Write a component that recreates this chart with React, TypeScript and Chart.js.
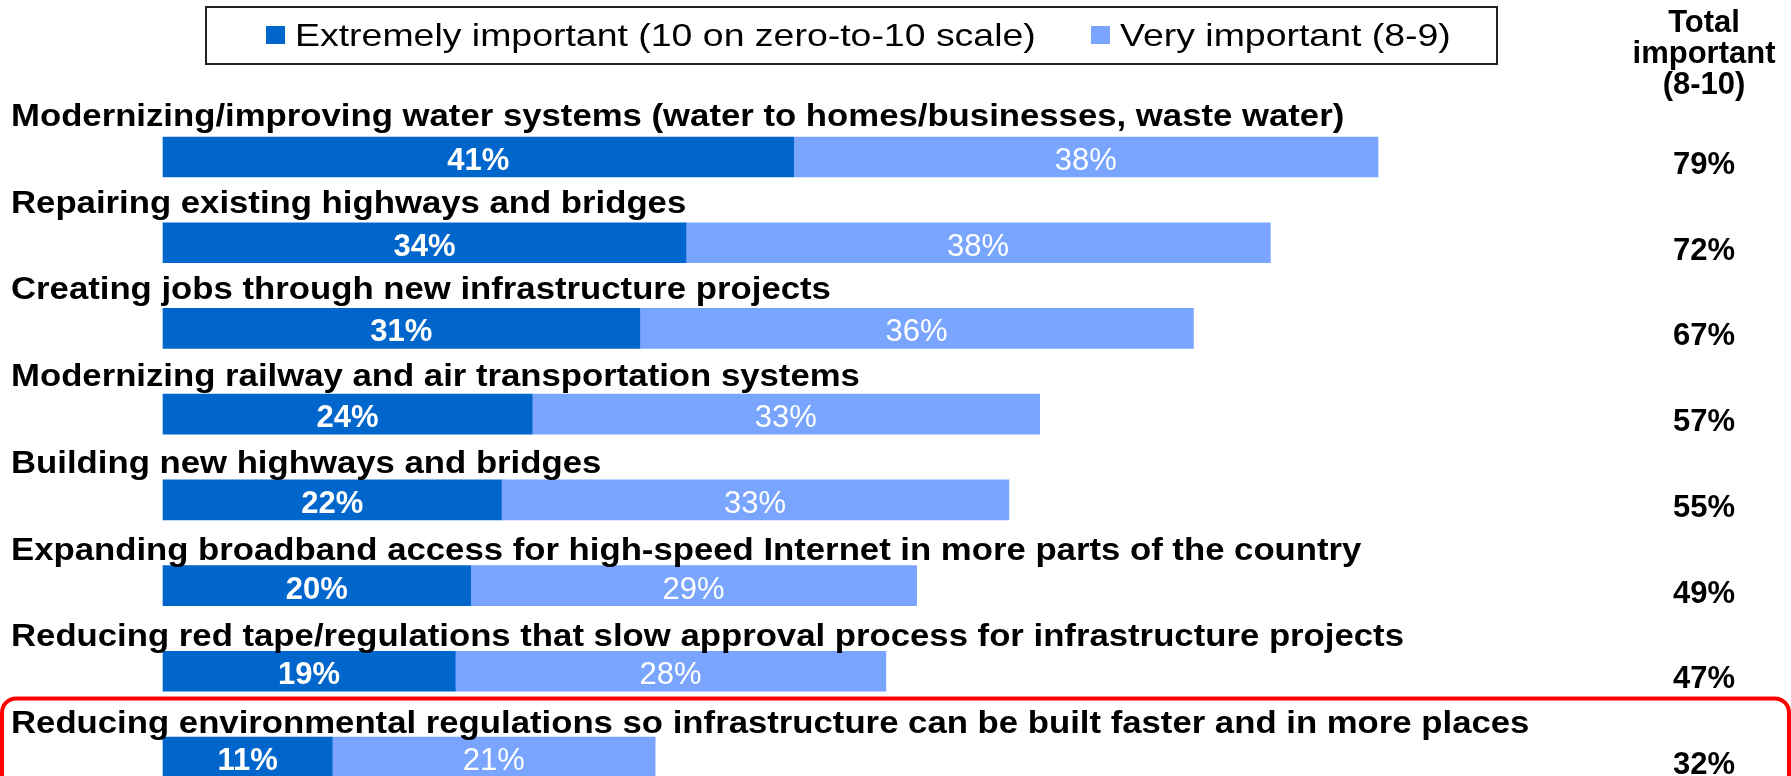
import React, { useEffect, useRef } from "react";
import { Chart, registerables } from "chart.js";

Chart.register(...registerables);

const categories: string[] = [
  "Modernizing/improving water systems (water to homes/businesses, waste water)",
  "Repairing existing highways and bridges",
  "Creating jobs through new infrastructure projects",
  "Modernizing railway and air transportation systems",
  "Building new highways and bridges",
  "Expanding broadband access for high-speed Internet in more parts of the country",
  "Reducing red tape/regulations that slow approval process for infrastructure projects",
  "Reducing environmental regulations so infrastructure can be built faster and in more places",
];
const extremelyImportant: number[] = [41, 34, 31, 24, 22, 20, 19, 11];
const veryImportant: number[] = [38, 38, 36, 33, 33, 29, 28, 21];
const totalImportant: number[] = [79, 72, 67, 57, 55, 49, 47, 32];
const seriesLabels: string[] = ["Extremely important (10 on zero-to-10 scale)", "Very important (8-9)"];
const totalHeader: string[] = ["Total", "important", "(8-10)"];

const DARK = "#0066CC";
const LIGHT = "#79A5FF";
const FONT = '"Liberation Sans", Arial, sans-serif';

function drawText(
  ctx: CanvasRenderingContext2D,
  text: string,
  x: number,
  y: number,
  font: string,
  color: string,
  align: CanvasTextAlign,
  sx: number
) {
  ctx.save();
  ctx.font = font;
  ctx.fillStyle = color;
  ctx.textAlign = align;
  ctx.textBaseline = "alphabetic";
  ctx.translate(x, y);
  ctx.scale(sx, 1);
  ctx.fillText(text, 0, 0);
  ctx.restore();
}

const overlayPlugin = {
  id: "overlay",
  afterDatasetsDraw(chart: any) {
    const ctx: CanvasRenderingContext2D = chart.ctx;
    const yScale = chart.scales.y;

    // value labels inside bars
    chart.data.datasets.forEach((ds: any, di: number) => {
      const meta = chart.getDatasetMeta(di);
      meta.data.forEach((bar: any, i: number) => {
        const v = ds.data[i];
        const cx = (bar.base + bar.x) / 2;
        drawText(
          ctx,
          v + "%",
          cx,
          bar.y + 13,
          (di === 0 ? "bold " : "") + "31px " + FONT,
          "#FFFFFF",
          "center",
          1.0
        );
      });
    });

    // category labels above bars
    categories.forEach((c, i) => {
      const yc = yScale.getPixelForValue(i);
      drawText(ctx, c, 11, yc - 31 + i, "bold 31px " + FONT, "#000000", "left", 1.12);
    });

    // totals column
    const totX = 1704;
    totalImportant.forEach((t, i) => {
      const yc = yScale.getPixelForValue(i);
      drawText(ctx, t + "%", totX, yc + 17, "bold 31px " + FONT, "#000000", "center", 1.0);
    });
    const headerBaselines = [32, 63, 94];
    totalHeader.forEach((h, i) => {
      drawText(ctx, h, totX, headerBaselines[i], "bold 31px " + FONT, "#000000", "center", 1.0);
    });

    // legend box
    ctx.save();
    ctx.strokeStyle = "#222222";
    ctx.lineWidth = 2;
    ctx.strokeRect(206, 7, 1291, 57);
    ctx.restore();
    const legendItems = [
      { sq: 266, tx: 295, color: DARK, label: seriesLabels[0] },
      { sq: 1091, tx: 1120, color: LIGHT, label: seriesLabels[1] },
    ];
    legendItems.forEach((it) => {
      ctx.save();
      ctx.fillStyle = it.color;
      ctx.fillRect(it.sq, 26, 19, 18);
      ctx.restore();
      drawText(ctx, it.label, it.tx, 46, "32px " + FONT, "#000000", "left", 1.17);
    });

    // red highlight box around last item
    ctx.save();
    ctx.strokeStyle = "#FF0000";
    ctx.lineWidth = 4;
    ctx.beginPath();
    (ctx as any).roundRect(2, 698.5, 1787, 200, 14);
    ctx.stroke();
    ctx.restore();
  },
};

export default function App() {
  const canvasRef = useRef<HTMLCanvasElement | null>(null);

  useEffect(() => {
    if (!canvasRef.current) return;
    const chart = new Chart(canvasRef.current, {
      type: "bar",
      data: {
        labels: categories,
        datasets: [
          {
            label: seriesLabels[0],
            data: extremelyImportant,
            backgroundColor: DARK,
            barThickness: 40,
            clip: false as any,
          },
          {
            label: seriesLabels[1],
            data: veryImportant,
            backgroundColor: LIGHT,
            barThickness: 40,
            clip: false as any,
          },
        ],
      },
      options: {
        indexAxis: "y",
        responsive: false,
        animation: false,
        devicePixelRatio: 1,
        layout: { padding: { left: 163, right: 90, top: 157, bottom: 19 } },
        scales: {
          x: { stacked: true, min: 0, max: 100, display: false },
          y: { stacked: true, display: false, offset: false },
        },
        plugins: {
          legend: { display: false },
          tooltip: { enabled: false },
        },
      },
      plugins: [overlayPlugin],
    });
    return () => chart.destroy();
  }, []);

  return (
    <div style={{ position: "fixed", left: 0, top: 0, width: 1791, height: 776, background: "#FFFFFF" }}>
      <canvas ref={canvasRef} width={1791} height={776} style={{ width: 1791, height: 776, display: "block" }} />
    </div>
  );
}
